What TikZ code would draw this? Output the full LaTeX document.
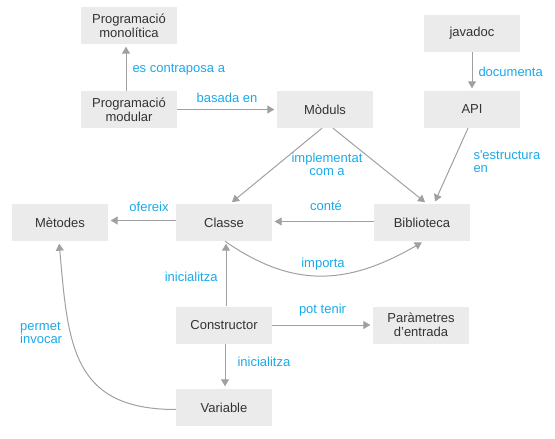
\documentclass[tikz,border=0pt]{standalone}
\usepackage{fontspec}
\setmainfont{Liberation Sans}
\usetikzlibrary{arrows.meta}
\definecolor{boxgray}{HTML}{EBEBEB}
\definecolor{txtgray}{HTML}{333333}
\definecolor{lblblue}{HTML}{1BA9E8}
\definecolor{arrgray}{HTML}{A0A0A0}
\begin{document}
\begin{tikzpicture}[x=1pt,y=-1pt]
    \tikzstyle{line} = [-{Triangle[length=7pt,width=8pt]}, draw=arrgray, line width=1pt, shorten >=2.5pt]
    \tikzstyle{rec} = [rectangle, fill=boxgray, text=txtgray, align=center, minimum width=96pt, minimum height=37pt, inner sep=0pt, font=\fontsize{13}{14}\selectfont]
    \tikzstyle{lbl} = [text=lblblue, inner sep=0pt, font=\fontsize{13}{13}\selectfont]

    \useasboundingbox (0,0) rectangle (555,439);

    \node(modular) [rec] at (129,109.5) {Programació\\modular};
    \node(monolitica) [rec, above of=modular, node distance=84pt] {Programació\\monolítica};
    \node(moduls) [rec, right of=modular, node distance=196pt] {Mòduls};
    \node(api) [rec, right of=moduls, node distance=147pt] {API};
    \node(javadoc) [rec, above of=api, node distance=76pt] {javadoc};
    \node(classe) [rec] at (224,222.5) {Classe};
    \node(metodes) [rec, left of=classe, node distance=164pt] {Mètodes};
    \node(biblioteca) [rec, right of=classe, node distance=198pt] {Biblioteca};
    \node(constructor) [rec, below of=classe, node distance=102.5pt] {Constructor};
    \node(parametres) [rec, right of=constructor, node distance=197pt] {Paràmetres\\d’entrada};
    \node(variable) [rec, below of=constructor, node distance=82.5pt] {Variable};

    \draw[line] ([xshift=-3pt]modular.north) -- node[lbl, midway, right=6pt, yshift=-2pt] (lcontra) {es contraposa a} ([xshift=-3pt]monolitica.south);
    \draw[line] (modular) -- node[lbl, midway, above=6.5pt] (lbasada) {basada en} (moduls);
    \draw[line] (javadoc) -- node[lbl, midway, right=6pt] (ldoc) {documenta} (api);
    \draw[line] ([xshift=-4pt]api.south) -- node[lbl, midway, right=22pt, yshift=4pt, align=left] (lestruct) {s\textquotesingle estructura\\en} ([xshift=12pt]biblioteca.north);
    \draw[line] ([xshift=-3pt]moduls.south) -- ([xshift=6pt]classe.north);
    \draw[line] ([xshift=8pt]moduls.south) -- ([xshift=5pt]biblioteca.north);
    \node(limpl) [lbl, align=center, below of=moduls, node distance=54.5pt, xshift=2pt] {implementat\\com a};

    \draw[line] ([yshift=2pt]classe.west) -- node[lbl, midway, above=8.5pt, xshift=7pt] (lofer) {ofereix} ([yshift=2pt]metodes.east);
    \draw[line] ([yshift=1pt]biblioteca.west) -- node[lbl, midway, above=10pt, xshift=3pt] (lconte) {conté} ([yshift=1pt]classe.east);
    \draw[line] ([xshift=1pt]classe.south) to[out=-35, in=-150, looseness=1.1] node[lbl, midway, above=5pt] (limporta) {importa} ([xshift=2pt]biblioteca.south);

    \draw[line] ([xshift=2pt]constructor.north) -- node[lbl, midway, left=8pt, yshift=-3pt] (linic) {inicialitza} ([xshift=2pt]classe.south);
    \draw[line] (constructor) -- node[lbl, midway, above=8pt] (lpot) {pot tenir} (parametres);
    \draw[line] ([xshift=1pt]constructor.south) -- node[lbl, midway, right=12pt, yshift=4pt] (linicvar) {inicialitza} ([xshift=1pt]variable.north);
    \draw[line] ([yshift=-2pt]variable.west) to[out=180, in=-85, looseness=1.3] node[lbl, pos=0.7, left=6pt, yshift=-10pt, align=left] (lpermet) {permet\\invocar} ([xshift=-1pt]metodes.south);
\end{tikzpicture}
\end{document}
